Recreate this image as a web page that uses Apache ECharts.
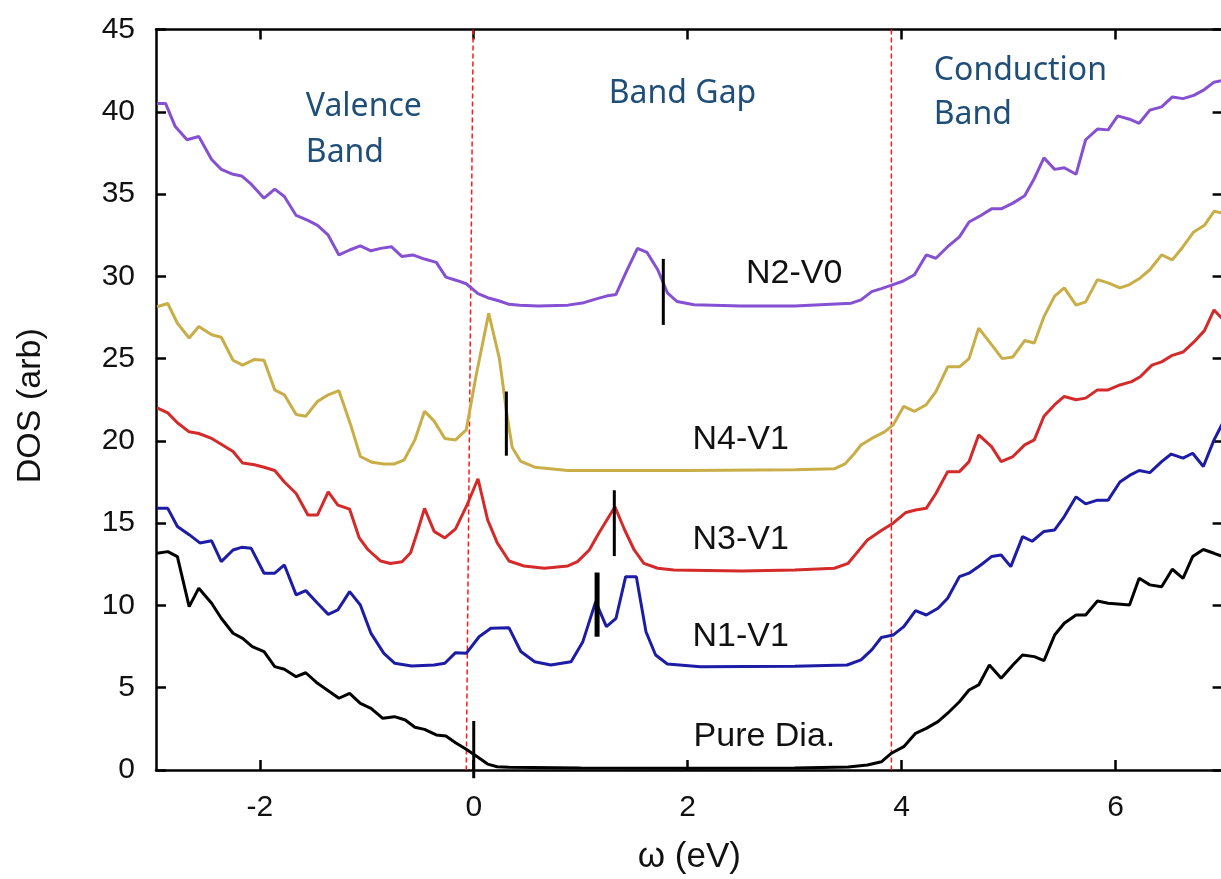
<!DOCTYPE html>
<html><head><meta charset="utf-8">
<script src="https://cdn.jsdelivr.net/npm/echarts@6/dist/echarts.min.js"></script>
<style>html,body{margin:0;padding:0;background:#fff}#c{width:1221px;height:879px}</style>
</head><body><div id="c"></div>
<script>
// ---- data (omega in eV, DOS arb.) ----
const xTicks = [-2, 0, 2, 4, 6];
const n2v0 = [[-2.96,40.5],[-2.88,40.5],[-2.79,39.1],[-2.68,38.3],[-2.57,38.5],[-2.45,37.1],[-2.36,36.5],[-2.25,36.2],[-2.17,36.1],[-2.08,35.6],[-1.96,34.75],[-1.86,35.3],[-1.77,34.85],[-1.66,33.7],[-1.55,33.4],[-1.46,33.1],[-1.36,32.5],[-1.26,31.3],[-1.16,31.6],[-1.06,31.85],[-0.96,31.55],[-0.87,31.7],[-0.77,31.8],[-0.67,31.2],[-0.57,31.3],[-0.46,31.05],[-0.35,30.85],[-0.26,29.95],[-0.16,29.75],[-0.07,29.55],[0.04,28.95],[0.13,28.7],[0.24,28.5],[0.33,28.3],[0.43,28.25],[0.6,28.2],[0.88,28.25],[1.03,28.4],[1.13,28.6],[1.24,28.8],[1.33,28.9],[1.42,30.2],[1.53,31.7],[1.62,31.45],[1.72,30.4],[1.81,29.0],[1.9,28.47],[2.06,28.27],[2.5,28.2],[3.0,28.2],[3.53,28.37],[3.62,28.57],[3.72,29.07],[3.81,29.25],[3.9,29.45],[4.01,29.7],[4.12,30.1],[4.23,31.3],[4.32,31.1],[4.43,31.8],[4.54,32.4],[4.63,33.3],[4.74,33.7],[4.84,34.1],[4.93,34.1],[5.04,34.45],[5.15,34.9],[5.24,35.95],[5.33,37.2],[5.43,36.5],[5.52,36.6],[5.63,36.2],[5.72,38.3],[5.83,38.95],[5.93,38.9],[6.02,39.75],[6.13,39.55],[6.22,39.3],[6.32,40.1],[6.43,40.3],[6.53,40.9],[6.63,40.8],[6.73,41.0],[6.83,41.35],[6.92,41.8],[7.0,41.9]];
const n4v1 = [[-2.96,28.15],[-2.86,28.35],[-2.77,27.15],[-2.66,26.25],[-2.57,26.95],[-2.45,26.45],[-2.36,26.3],[-2.25,24.9],[-2.16,24.6],[-2.05,24.95],[-1.96,24.9],[-1.86,23.1],[-1.77,22.8],[-1.66,21.6],[-1.57,21.5],[-1.46,22.4],[-1.36,22.8],[-1.26,23.05],[-1.15,20.97],[-1.06,19.05],[-0.95,18.7],[-0.84,18.6],[-0.74,18.6],[-0.65,18.85],[-0.55,20.06],[-0.46,21.8],[-0.37,21.2],[-0.27,20.15],[-0.17,20.06],[-0.07,20.67],[0.02,23.9],[0.14,27.75],[0.24,25.0],[0.31,21.6],[0.36,19.6],[0.44,18.75],[0.57,18.4],[0.88,18.2],[2.0,18.2],[3.0,18.25],[3.37,18.3],[3.47,18.6],[3.56,19.25],[3.62,19.75],[3.72,20.15],[3.84,20.55],[3.92,20.97],[4.02,22.1],[4.12,21.8],[4.23,22.2],[4.32,23.0],[4.43,24.5],[4.54,24.5],[4.63,25.0],[4.72,26.85],[4.84,25.85],[4.94,25.0],[5.04,25.1],[5.15,26.1],[5.24,25.95],[5.33,27.55],[5.43,28.8],[5.52,29.3],[5.63,28.25],[5.72,28.45],[5.83,29.8],[5.93,29.6],[6.04,29.3],[6.13,29.5],[6.23,29.9],[6.32,30.4],[6.43,31.3],[6.53,31.0],[6.63,31.8],[6.73,32.7],[6.83,33.1],[6.92,33.95],[7.0,33.85]];
const n3v1 = [[-2.96,22.0],[-2.86,21.7],[-2.77,21.1],[-2.66,20.55],[-2.57,20.45],[-2.45,20.15],[-2.36,19.8],[-2.25,19.35],[-2.16,18.65],[-2.05,18.55],[-1.96,18.4],[-1.86,18.2],[-1.77,17.5],[-1.66,16.8],[-1.55,15.5],[-1.46,15.5],[-1.36,16.9],[-1.27,16.1],[-1.16,15.85],[-1.07,14.1],[-0.99,13.4],[-0.87,12.7],[-0.78,12.55],[-0.67,12.65],[-0.59,13.2],[-0.53,14.4],[-0.46,15.9],[-0.37,14.5],[-0.27,14.1],[-0.17,14.65],[-0.07,16.0],[0.04,17.7],[0.13,15.2],[0.22,13.8],[0.33,12.7],[0.47,12.4],[0.66,12.26],[0.88,12.4],[0.97,12.66],[1.08,13.37],[1.17,14.4],[1.32,16.0],[1.41,14.6],[1.5,13.37],[1.59,12.56],[1.72,12.26],[1.87,12.16],[2.5,12.1],[3.0,12.15],[3.37,12.26],[3.5,12.56],[3.59,13.27],[3.68,13.98],[3.81,14.55],[3.92,15.0],[4.04,15.65],[4.13,15.8],[4.23,15.9],[4.32,16.8],[4.43,18.13],[4.54,18.13],[4.63,18.74],[4.72,20.36],[4.84,19.65],[4.93,18.74],[5.04,19.05],[5.15,19.76],[5.24,20.06],[5.33,21.5],[5.43,22.2],[5.52,22.7],[5.63,22.5],[5.72,22.6],[5.83,23.1],[5.93,23.1],[6.04,23.4],[6.15,23.6],[6.23,23.9],[6.34,24.6],[6.43,24.8],[6.53,25.2],[6.63,25.4],[6.73,26.0],[6.83,26.7],[6.92,27.96],[7.0,27.4]];
const n1v1 = [[-2.96,15.9],[-2.86,15.9],[-2.77,14.8],[-2.66,14.3],[-2.56,13.8],[-2.45,13.93],[-2.36,12.66],[-2.25,13.37],[-2.17,13.53],[-2.08,13.47],[-1.96,11.96],[-1.86,11.96],[-1.77,12.46],[-1.66,10.64],[-1.57,10.9],[-1.46,10.13],[-1.36,9.46],[-1.27,9.73],[-1.16,10.84],[-1.06,10.03],[-0.96,8.3],[-0.84,7.09],[-0.74,6.49],[-0.58,6.32],[-0.37,6.38],[-0.27,6.49],[-0.17,7.13],[-0.07,7.09],[0.05,8.1],[0.16,8.61],[0.33,8.64],[0.44,7.2],[0.57,6.58],[0.72,6.38],[0.91,6.58],[1.02,7.8],[1.14,10.23],[1.24,8.71],[1.33,9.22],[1.42,11.75],[1.52,11.75],[1.61,8.4],[1.7,6.99],[1.81,6.44],[2.12,6.28],[3.0,6.3],[3.49,6.38],[3.62,6.69],[3.72,7.3],[3.81,8.05],[3.92,8.2],[4.02,8.71],[4.13,9.68],[4.23,9.42],[4.34,9.83],[4.43,10.44],[4.54,11.75],[4.63,11.96],[4.74,12.46],[4.84,12.97],[4.93,13.07],[5.02,12.36],[5.13,14.18],[5.22,13.9],[5.33,14.5],[5.43,14.59],[5.52,15.4],[5.63,16.6],[5.72,16.17],[5.83,16.4],[5.93,16.4],[6.04,17.5],[6.13,17.9],[6.22,18.2],[6.32,18.07],[6.43,18.74],[6.52,19.2],[6.63,18.95],[6.72,19.25],[6.82,18.44],[6.92,20.06],[7.0,21.07]];
const pureDia = [[-2.96,13.17],[-2.86,13.27],[-2.77,12.97],[-2.66,9.93],[-2.57,11.05],[-2.45,10.13],[-2.36,9.22],[-2.25,8.31],[-2.16,8.0],[-2.07,7.5],[-1.96,7.19],[-1.86,6.28],[-1.77,6.12],[-1.66,5.67],[-1.57,5.91],[-1.46,5.27],[-1.36,4.82],[-1.26,4.36],[-1.16,4.66],[-1.06,4.05],[-0.96,3.75],[-0.85,3.14],[-0.74,3.24],[-0.64,3.04],[-0.55,2.6],[-0.46,2.47],[-0.35,2.13],[-0.26,2.07],[-0.17,1.66],[-0.07,1.26],[0.04,0.77],[0.13,0.36],[0.22,0.2],[0.33,0.16],[1.0,0.12],[2.0,0.1],[3.0,0.12],[3.5,0.18],[3.68,0.3],[3.81,0.5],[3.9,1.0],[4.02,1.42],[4.13,2.23],[4.23,2.53],[4.34,2.94],[4.43,3.45],[4.54,4.15],[4.63,4.86],[4.72,5.17],[4.82,6.38],[4.93,5.57],[5.04,6.38],[5.13,6.99],[5.24,6.89],[5.33,6.64],[5.43,8.2],[5.52,8.92],[5.63,9.42],[5.72,9.42],[5.83,10.27],[5.93,10.13],[6.02,10.09],[6.13,10.03],[6.22,11.65],[6.32,11.25],[6.43,11.14],[6.53,12.2],[6.63,11.65],[6.72,12.97],[6.82,13.4],[6.92,13.17],[7.0,12.97]];

// Fermi-level markers [x, yLow, yHigh]
const markerPure = [0.0, -0.5, 2.98];
const markerN1 = [1.153, 8.1, 12.0];
const markerN3 = [1.314, 13.0, 17.0];
const markerN4 = [0.305, 19.1, 23.0];
const markerN2 = [1.772, 27.05, 31.06];

// band edges (dashed red)
const vbmEdge = [[-0.005, 45], [-0.07, 0]];
const cbmEdge = [[3.904, 45], [3.904, 0]];

// labels [text, x, y]
const curveLabels = [["N2-V0", 2.54, 30.14], ["N4-V1", 2.04, 20.05], ["N3-V1", 2.04, 13.98], ["N1-V1", 2.04, 8.1], ["Pure Dia.", 2.05, 2.02]];
const regionLabels = [["Valence", -1.574, 40.28], ["Band", -1.574, 37.5], ["Band Gap", 1.258, 41.07], ["Conduction", 4.296, 42.51], ["Band", 4.296, 39.79]];

// ---- chart ----
const chart = echarts.init(document.getElementById('c'), null, {renderer: 'canvas'});
const FONT = 'Liberation Sans, Arial, sans-serif';
const axisLineStyle = {color: '#000', width: 2.5};
const tickStyle = {color: '#000', width: 2.5};

function curve(name, data, color) {
  return {name, type: 'line', data, symbol: 'none', smooth: false, lineStyle: {color, width: 3}, z: 3};
}
function marker(m, width) {
  return {type: 'line', data: [[m[0], m[1]], [m[0], m[2]]], symbol: 'none', clip: false,
    lineStyle: {color: '#000', width: width}, z: 5, silent: true};
}
function edge(data) {
  return {type: 'line', data, symbol: 'none', lineStyle: {color: '#ff1a1a', width: 1.5, type: [5, 3]}, z: 2, silent: true};
}
function textSeries(list, style) {
  return {type: 'scatter', symbolSize: 1, itemStyle: {color: 'rgba(0,0,0,0)', opacity: 1}, silent: true, z: 6,
    data: list.map(d => ({value: [d[1], d[2]], label: {formatter: d[0]}})),
    label: Object.assign({show: true, opacity: 1, position: 'right', distance: 0, align: 'left', verticalAlign: 'middle'}, style)};
}

chart.setOption({
  animation: false,
  backgroundColor: '#fff',
  grid: {left: 156, top: 29.5, width: 1066.6, bottom: 109, outerBoundsMode: 'none', containLabel: false},
  xAxis: [{
    type: 'value', min: -2.97, max: 7, position: 'bottom',
    axisLine: {onZero: false, lineStyle: axisLineStyle},
    axisTick: {inside: true, length: 10, lineStyle: tickStyle, customValues: xTicks},
    axisLabel: {customValues: xTicks, margin: 23, color: '#111', fontSize: 30, fontFamily: FONT},
    splitLine: {show: false},
    name: 'ω (eV)', nameLocation: 'middle', nameGap: 70,
    nameTextStyle: {color: '#111', fontSize: 35, fontFamily: FONT}
  }, {
    type: 'value', min: -2.97, max: 7, position: 'top',
    axisLine: {onZero: false, lineStyle: axisLineStyle},
    axisTick: {inside: true, length: 10, lineStyle: tickStyle, customValues: xTicks},
    axisLabel: {show: false}, splitLine: {show: false}
  }],
  yAxis: [{
    type: 'value', min: 0, max: 45, interval: 5, position: 'left',
    axisLine: {show: true, onZero: false, lineStyle: axisLineStyle},
    axisTick: {show: true, inside: true, length: 10, lineStyle: tickStyle},
    axisLabel: {margin: 21, color: '#111', fontSize: 30, fontFamily: FONT},
    splitLine: {show: false},
    name: 'DOS (arb)', nameLocation: 'middle', nameGap: 108, nameRotate: 90,
    nameTextStyle: {color: '#111', fontSize: 34, fontFamily: FONT, padding: [0, 12, 0, 0]}
  }, {
    type: 'value', min: 0, max: 45, interval: 5, position: 'right',
    axisLine: {show: true, onZero: false, lineStyle: axisLineStyle},
    axisTick: {show: true, inside: true, length: 10, lineStyle: tickStyle},
    axisLabel: {show: false}, splitLine: {show: false}
  }],
  series: [
    edge(vbmEdge), edge(cbmEdge),
    curve('Pure Dia.', pureDia, '#000000'),
    curve('N1-V1', n1v1, '#1c1ca6'),
    curve('N3-V1', n3v1, '#d42a2a'),
    curve('N4-V1', n4v1, '#c9ae48'),
    curve('N2-V0', n2v0, '#8650d2'),
    marker(markerPure, 3), marker(markerN1, 5), marker(markerN3, 3), marker(markerN4, 3), marker(markerN2, 3),
    textSeries(curveLabels, {color: '#111', fontSize: 34, fontFamily: FONT}),
    textSeries(regionLabels, {color: '#1f4e79', fontSize: 32, fontFamily: 'Noto Sans, sans-serif'})
  ]
});
</script></body></html>
